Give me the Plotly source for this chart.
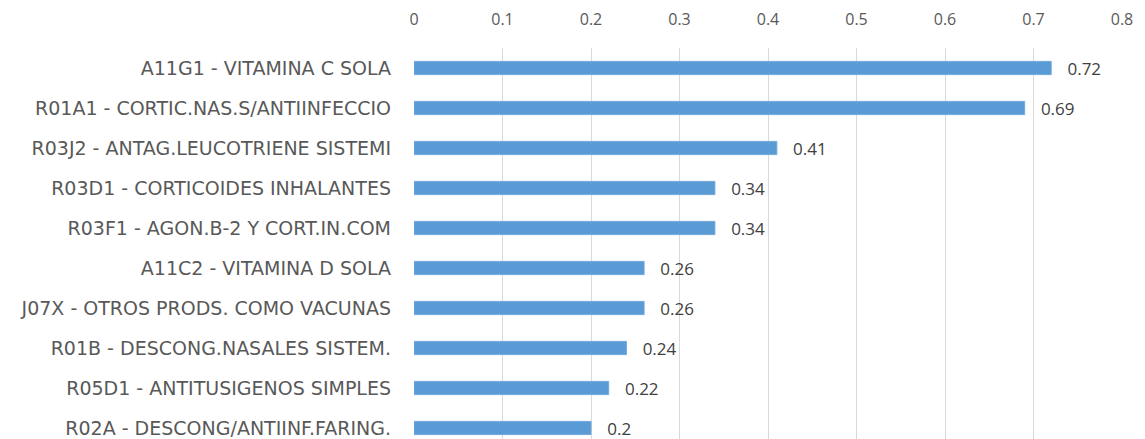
import plotly.graph_objects as go

categories = [
    "A11G1 - VITAMINA C SOLA",
    "R01A1 - CORTIC.NAS.S/ANTIINFECCIO",
    "R03J2 - ANTAG.LEUCOTRIENE SISTEMI",
    "R03D1 - CORTICOIDES INHALANTES",
    "R03F1 - AGON.B-2 Y CORT.IN.COM",
    "A11C2 - VITAMINA D SOLA",
    "J07X - OTROS PRODS. COMO VACUNAS",
    "R01B - DESCONG.NASALES SISTEM.",
    "R05D1 - ANTITUSIGENOS SIMPLES",
    "R02A - DESCONG/ANTIINF.FARING.",
]
values = [0.72, 0.69, 0.41, 0.34, 0.34, 0.26, 0.26, 0.24, 0.22, 0.2]
x_ticks = [0, 0.1, 0.2, 0.3, 0.4, 0.5, 0.6, 0.7, 0.8]
x_tick_labels = ["0", "0.1", "0.2", "0.3", "0.4", "0.5", "0.6", "0.7", "0.8"]

# bottom-to-top order for plotting
cats_plot = categories[::-1]
vals_plot = values[::-1]

fig = go.Figure(go.Bar(
    x=vals_plot,
    y=cats_plot,
    orientation="h",
    width=0.33,
    marker=dict(color="#5B9BD5", line=dict(color="#6FA8DC", width=1)),
    text=[f"{v:g}" for v in vals_plot],
    texttemplate="   %{text}",
    textposition="outside",
    constraintext="none",
    cliponaxis=False,
    textfont=dict(family="Open Sans", size=17, color="#404040"),
))

fig.update_layout(
    width=1145,
    height=439,
    margin=dict(l=414, r=23, t=48, b=0, autoexpand=False),
    paper_bgcolor="white",
    plot_bgcolor="white",
    showlegend=False,
    font=dict(family="Open Sans", color="#595959"),
    xaxis=dict(
        side="top",
        range=[0, 0.8],
        tickvals=x_ticks,
        ticktext=x_tick_labels,
        showgrid=True,
        gridcolor="#D9D9D9",
        gridwidth=1,
        zeroline=False,
        showline=False,
        automargin=False,
        tickfont=dict(family="Open Sans", size=16, color="#595959"),
        ticklabelstandoff=19,
    ),
    yaxis=dict(
        type="category",
        range=[-0.275, 9.5],
        showgrid=False,
        zeroline=False,
        showline=False,
        automargin=False,
        tickfont=dict(family="DejaVu Sans", size=19, color="#595959"),
        ticklabelstandoff=22,
    ),
)

fig.write_html(
    "out.html",
    config={"displayModeBar": False},
    post_script="document.body.style.margin='0';document.body.style.overflow='hidden';",
)
